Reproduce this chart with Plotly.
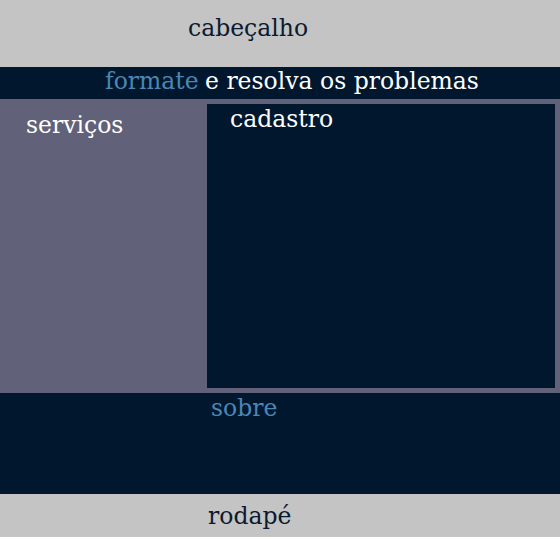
import plotly.graph_objects as go

# blocos do layout (x0, y0, x1, y1) em pixels da página
block_names = ["cabecalho", "nav", "lateral", "cadastro", "sobre", "rodape"]
block_x0 = [0, 0, 0, 207, 0, 0]
block_y0 = [0, 67, 99, 104, 393, 494]
block_x1 = [560, 560, 560, 555, 560, 560]
block_y1 = [67, 99, 393, 388, 494, 537]
block_colors = ["#c4c4c4", "#00172e", "#61627a", "#00172e", "#00172e", "#c4c4c4"]

# textos
labels = ["cabeçalho", "formate", "e resolva os problemas", "serviços", "cadastro", "sobre", "rodapé"]
label_x = [187, 104, 204, 25, 229, 210, 207]
label_y = [28, 81, 81, 125, 119, 408, 516]
label_colors = ["#0b1a30", "#4c86b4", "#ffffff", "#ffffff", "#ffffff", "#4c86b4", "#0b1a30"]

fig = go.Figure()

for x0, y0, x1, y1, c in zip(block_x0, block_y0, block_x1, block_y1, block_colors):
    fig.add_shape(type="rect", x0=x0, y0=y0, x1=x1, y1=y1,
                  fillcolor=c, line=dict(width=0), layer="below")

for t, x, y, c in zip(labels, label_x, label_y, label_colors):
    fig.add_annotation(x=x, y=y, text=t, showarrow=False, xanchor="left", yanchor="middle",
                       xshift=-1,
                       font=dict(family="DejaVu Serif", size=23.5, color=c))

fig.update_xaxes(range=[0, 560], visible=False, fixedrange=True)
fig.update_yaxes(range=[539, 0], visible=False, fixedrange=True)
fig.update_layout(width=560, height=539, margin=dict(l=0, r=0, t=0, b=0),
                  paper_bgcolor="white", plot_bgcolor="white", showlegend=False)

# tira a margem padrão do body
fig.write_html("out.html", config={"displayModeBar": False},
               post_script="document.body.style.margin='0';")
